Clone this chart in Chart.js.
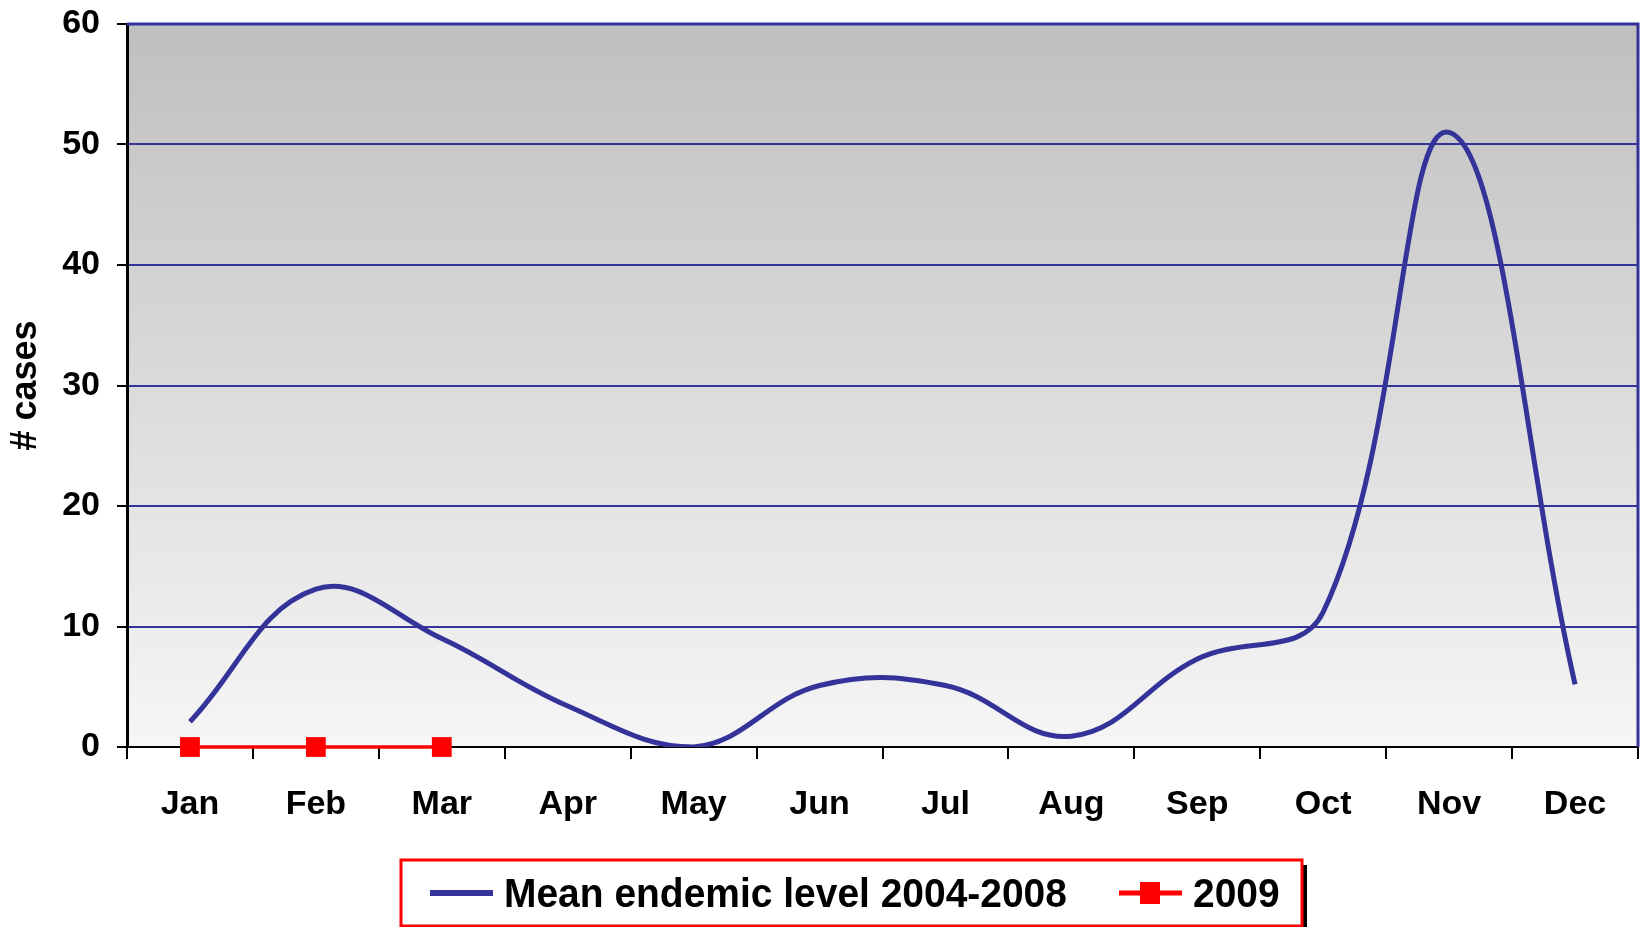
<!DOCTYPE html>
<html>
<head>
<meta charset="utf-8">
<script src="https://cdn.jsdelivr.net/npm/chart.js@4.4.0/dist/chart.umd.min.js"></script>
<style>
html, body { margin: 0; padding: 0; background: #fff; }
</style>
</head>
<body>
<canvas id="chart" width="1641" height="927"></canvas>
<script>
// Dados do gráfico
const months = ['Jan', 'Feb', 'Mar', 'Apr', 'May', 'Jun', 'Jul', 'Aug', 'Sep', 'Oct', 'Nov', 'Dec'];
const meanLevel = [2.1, 13.1, 9.0, 3.4, 0, 5.1, 5.1, 0.9, 7.3, 11.2, 51.0, 5.2];
const cases2009 = [0, 0, 0, null, null, null, null, null, null, null, null, null];
const yTicks = [0, 10, 20, 30, 40, 50, 60];
const seriesNames = ['Mean endemic level 2004-2008', '2009'];

const FONT = "'Liberation Sans', Arial, sans-serif";
const BLUE = '#333399';
const RED = '#ff0000';

// Fundo em degradê e moldura da área do gráfico
const plotBackground = {
    id: 'plotBackground',
    beforeDraw(chart) {
        const { ctx, chartArea: a } = chart;
        const g = ctx.createLinearGradient(0, a.top, 0, a.bottom);
        g.addColorStop(0, '#bfbfbf');
        g.addColorStop(1, '#f6f6f6');
        ctx.save();
        ctx.fillStyle = g;
        ctx.fillRect(a.left, a.top, a.right - a.left, a.bottom - a.top);
        ctx.restore();
    },
    beforeDatasetsDraw(chart) {
        const { ctx, chartArea: a } = chart;
        ctx.save();
        ctx.strokeStyle = BLUE;
        ctx.lineWidth = 3;
        ctx.beginPath();
        ctx.moveTo(a.left, a.top);
        ctx.lineTo(a.right, a.top);
        ctx.lineTo(a.right, a.bottom);
        ctx.stroke();
        ctx.restore();
    }
};

// Legenda desenhada à mão (linha + quadrado para 2009)
const boxLegend = {
    id: 'boxLegend',
    afterDraw(chart) {
        const ctx = chart.ctx;
        const x = 401, y = 860, w = 901, h = 66;
        ctx.save();
        ctx.fillStyle = '#000';
        ctx.fillRect(x + 5, y + 5, w, h);
        ctx.fillStyle = '#fff';
        ctx.fillRect(x, y, w, h);
        ctx.strokeStyle = RED;
        ctx.lineWidth = 3;
        ctx.strokeRect(x, y, w, h);

        const cy = 893;
        ctx.lineCap = 'butt';
        ctx.strokeStyle = BLUE;
        ctx.lineWidth = 6;
        ctx.beginPath();
        ctx.moveTo(430, cy);
        ctx.lineTo(493, cy);
        ctx.stroke();

        ctx.strokeStyle = RED;
        ctx.lineWidth = 5;
        ctx.beginPath();
        ctx.moveTo(1119, cy);
        ctx.lineTo(1182, cy);
        ctx.stroke();
        ctx.fillStyle = RED;
        ctx.fillRect(1140, cy - 11, 20, 22);

        ctx.fillStyle = '#000';
        ctx.font = 'bold 41px ' + FONT;
        ctx.textBaseline = 'alphabetic';
        [[504, seriesNames[0]], [1193, seriesNames[1]]].forEach(([tx, label]) => {
            ctx.save();
            ctx.translate(tx, 907);
            ctx.scale(0.95, 1);
            ctx.fillText(label, 0, 0);
            ctx.restore();
        });
        ctx.restore();
    }
};

const ctx = document.getElementById('chart').getContext('2d');
const chart = new Chart(ctx, {
    type: 'line',
    data: {
        labels: months,
        datasets: [{
            label: seriesNames[0],
            data: meanLevel,
            borderColor: BLUE,
            borderWidth: 5,
            pointRadius: 0,
            tension: 0.4,
            fill: false
        }, {
            label: seriesNames[1],
            data: cases2009,
            borderColor: RED,
            backgroundColor: RED,
            borderWidth: 3.5,
            pointStyle: 'rect',
            pointRadius: 14,
            pointBackgroundColor: RED,
            pointBorderColor: RED,
            pointBorderWidth: 0,
            tension: 0,
            clip: false,
            spanGaps: false
        }]
    },
    options: {
        responsive: false,
        animation: false,
        layout: {
            autoPadding: false,
            padding: { top: 24, right: 3, bottom: 80, left: 0 }
        },
        plugins: {
            legend: { display: false },
            tooltip: { enabled: false }
        },
        scales: {
            x: {
                offset: true,
                afterFit: s => {
                    s.height = 100;
                    s.paddingLeft = 0;
                    s.paddingRight = 0;
                },
                grid: {
                    offset: true,
                    drawOnChartArea: false,
                    tickLength: 12,
                    tickColor: '#000',
                    lineWidth: 2
                },
                border: { color: '#000', width: 2 },
                ticks: {
                    color: '#000',
                    padding: 25,
                    maxRotation: 0,
                    font: { family: FONT, size: 34, weight: 'bold' }
                }
            },
            y: {
                min: 0,
                max: 60,
                afterFit: s => {
                    s.width = 127;
                    s.paddingTop = 0;
                    s.paddingBottom = 0;
                },
                afterBuildTicks: s => { s.ticks = yTicks.map(v => ({ value: v })); },
                grid: {
                    color: BLUE,
                    lineWidth: 2,
                    tickLength: 10,
                    tickColor: '#000'
                },
                border: { color: '#000', width: 3 },
                ticks: {
                    color: '#000',
                    padding: 17,
                    font: { family: FONT, size: 34, weight: 'bold' }
                },
                title: {
                    display: true,
                    text: '# cases',
                    color: '#000',
                    padding: { top: 4, bottom: 0 },
                    font: { family: FONT, size: 36, weight: 'bold' }
                }
            }
        }
    },
    plugins: [plotBackground, boxLegend]
});
</script>
</body>
</html>
